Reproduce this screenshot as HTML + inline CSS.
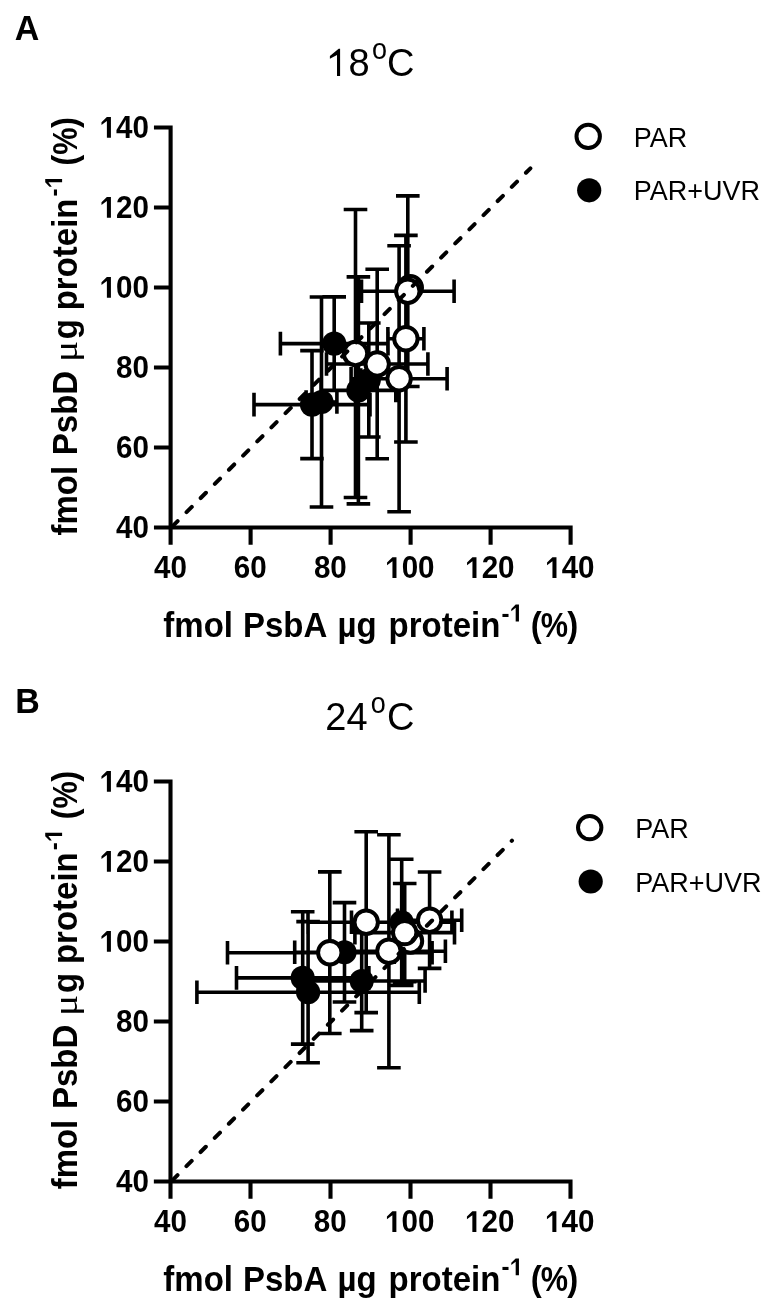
<!DOCTYPE html>
<html><head><meta charset="utf-8"><style>
html,body{margin:0;padding:0;background:#fff;}
svg{display:block;will-change:transform;}
text{font-family:"Liberation Sans",sans-serif;fill:#000;}
.mu{font-family:"Liberation Serif",serif;font-weight:normal;}
</style></head><body>
<svg width="768" height="1307" viewBox="0 0 768 1307">
<rect width="768" height="1307" fill="#fff"/>
<g transform="translate(14.75 39.7) scale(1 1.04)"><text x="0" y="0" font-size="34" font-weight="bold">A</text></g><g transform="translate(327.41 75.9) scale(1 1.04)"><path d="M2.49 -19.21L11.26 -26.1L12.69 -26.1L12.69 0L9.59 0L9.59 -20.16L2.49 -16.41Z"/><text x="21.13" y="0" font-size="38">8</text></g><g transform="translate(371.97 58.9) scale(1 1.06)"><text x="0" y="0" font-size="27">o</text></g><g transform="translate(386.97 76.1) scale(1 1.04)"><text x="0" y="0" font-size="38">C</text></g><g transform="translate(163.34 637) scale(1 1.04)"><text x="0" y="0" font-size="33" font-weight="bold">fmol</text></g><g transform="translate(242.99 637) scale(1 1.04)"><text x="0" y="0" font-size="33" font-weight="bold">PsbA</text></g><g transform="translate(337.44 637) scale(1 1.04)"><text x="0" y="0" font-size="33" font-weight="bold">µg</text></g><g transform="translate(388.62 637) scale(1 1.04)"><text x="0" y="0" font-size="33" font-weight="bold">protein</text></g><g transform="translate(501.46 621.5) scale(1 1.04)"><text x="0" y="0" font-size="24" font-weight="bold">-</text></g><g transform="translate(509.8 621.5) scale(1 1.04)"><path d="M1.5 -12.12L5.87 -16.23L9.15 -16.23L9.15 0L5.88 0L5.88 -13.13L1.5 -9.92Z"/></g><g transform="translate(530.66 637) scale(1 1.04)"><text x="0" y="0" font-size="33" font-weight="bold">(</text></g><g transform="translate(540.64 637) scale(0.93 1.04)"><text x="0" y="0" font-size="33" font-weight="bold">%</text></g><g transform="translate(567.25 637) scale(1 1.04)"><text x="0" y="0" font-size="33" font-weight="bold">)</text></g><g transform="translate(77.1 0) rotate(-90)"><g transform="translate(-535.56 0) scale(1 1.04)"><text x="0" y="0" font-size="33" font-weight="bold">fmol</text></g><g transform="translate(-455.21 0) scale(1 1.04)"><text x="0" y="0" font-size="33" font-weight="bold">PsbD</text></g><g transform="translate(-362.11 0) scale(1.2 1)"><text x="0" y="0" font-size="33" class="mu">μ</text></g><g transform="translate(-339.15 0) scale(1 1.04)"><text x="0" y="0" font-size="33" font-weight="bold">g</text></g><g transform="translate(-310.28 0) scale(1 1.04)"><text x="0" y="0" font-size="33" font-weight="bold">protein</text></g><g transform="translate(-196.44 -15) scale(1 1.04)"><text x="0" y="0" font-size="24" font-weight="bold">-</text></g><g transform="translate(-188.2 -15) scale(1 1.04)"><path d="M1.5 -12.12L5.87 -16.23L9.15 -16.23L9.15 0L5.88 0L5.88 -13.13L1.5 -9.92Z"/></g><g transform="translate(-165.64 0) scale(1 1.04)"><text x="0" y="0" font-size="33" font-weight="bold">(</text></g><g transform="translate(-154.76 0) scale(0.93 1.04)"><text x="0" y="0" font-size="33" font-weight="bold">%</text></g><g transform="translate(-127.95 0) scale(1 1.04)"><text x="0" y="0" font-size="33" font-weight="bold">)</text></g></g><circle cx="588.2" cy="136.4" r="11.7" fill="#fff" stroke="#000" stroke-width="4.0"/><circle cx="589.2" cy="190.3" r="12.1"/><g transform="translate(633.69 146.6) scale(1 1.05)"><text x="0" y="0" font-size="27">PAR</text></g><g transform="translate(633.69 200.4) scale(1 1.05)"><text x="0" y="0" font-size="27">PAR+UVR</text></g><path d="M170.6 127.5V527.5M156 527.5H170.6M156 447.5H170.6M156 367.5H170.6M156 287.5H170.6M156 207.5H170.6M156 127.5H170.6M170.6 527.5H570.6M170.6 527.5V542.8M250.6 527.5V542.8M330.6 527.5V542.8M410.6 527.5V542.8M490.6 527.5V542.8M570.6 527.5V542.8" fill="none" stroke="#000" stroke-width="4.1" stroke-linecap="square"/><path d="M334.2 296.9V390.3M322.4 296.9H346M322.4 390.3H346M280.4 343.6H388M280.4 331.8V355.4M388 331.8V355.4M312 350.6V458.6M300.2 350.6H323.8M300.2 458.6H323.8M254 404.6H370M254 392.8V416.4M370 392.8V416.4M321.5 297V507M309.7 297H333.3M309.7 507H333.3M306.1 402H336.9M306.1 390.2V413.8M336.9 390.2V413.8M358.4 276.9V503.9M346.6 276.9H370.2M346.6 503.9H370.2M321 390.4H395.8M321 378.6V402.2M395.8 378.6V402.2M368.8 323V437M357 323H380.6M357 437H380.6M360.8 380H376.8M360.8 368.2V391.8M376.8 368.2V391.8M407.8 195.9V386.5M396 195.9H419.6M396 386.5H419.6M361.5 291.2H454.1M361.5 279.4V303M454.1 279.4V303M405.9 235.4V442M394.1 235.4H417.7M394.1 442H417.7M387.9 338.7H423.9M387.9 326.9V350.5M423.9 326.9V350.5M355.5 209.5V497.5M343.7 209.5H367.3M343.7 497.5H367.3M347.5 353.5H363.5M347.5 341.7V365.3M363.5 341.7V365.3M377.2 269.3V458.7M365.4 269.3H389M365.4 458.7H389M326.5 364H427.9M326.5 352.2V375.8M427.9 352.2V375.8M399.1 245.7V511.7M387.3 245.7H410.9M387.3 511.7H410.9M351.1 378.7H447.1M351.1 366.9V390.5M447.1 366.9V390.5" fill="none" stroke="#000" stroke-width="3.6"/><circle cx="334.2" cy="343.6" r="12.1"/><circle cx="312" cy="404.6" r="12.1"/><circle cx="321.5" cy="402" r="12.1"/><circle cx="358.4" cy="390.4" r="12.1"/><circle cx="368.8" cy="380" r="12.1"/><circle cx="410.3" cy="287.8" r="11.7" fill="#fff" stroke="#000" stroke-width="4.0"/><circle cx="407.8" cy="291.2" r="11.7" fill="#fff" stroke="#000" stroke-width="4.0"/><circle cx="405.9" cy="338.7" r="11.7" fill="#fff" stroke="#000" stroke-width="4.0"/><circle cx="355.5" cy="353.5" r="11.7" fill="#fff" stroke="#000" stroke-width="4.0"/><circle cx="377.2" cy="364" r="11.7" fill="#fff" stroke="#000" stroke-width="4.0"/><circle cx="399.1" cy="378.7" r="11.7" fill="#fff" stroke="#000" stroke-width="4.0"/><path d="M170.6 528.1L530.4 168.3" stroke="#000" stroke-width="4" stroke-linecap="round" stroke-dasharray="7.4 12.6" stroke-dashoffset="17.45" fill="none"/><g transform="translate(116.09 537.7) scale(1 1.03)"><text x="0" y="0" font-size="29.6" font-weight="bold">40</text></g><g transform="translate(116.09 457.7) scale(1 1.03)"><text x="0" y="0" font-size="29.6" font-weight="bold">60</text></g><g transform="translate(116.09 377.7) scale(1 1.03)"><text x="0" y="0" font-size="29.6" font-weight="bold">80</text></g><g transform="translate(99.63 297.7) scale(1 1.03)"><path d="M1.85 -15.03L7.24 -20.11L11.29 -20.11L11.29 0L7.26 0L7.26 -16.27L1.85 -12.29Z"/><text x="16.46" y="0" font-size="29.6" font-weight="bold">00</text></g><g transform="translate(99.63 217.7) scale(1 1.03)"><path d="M1.85 -15.03L7.24 -20.11L11.29 -20.11L11.29 0L7.26 0L7.26 -16.27L1.85 -12.29Z"/><text x="16.46" y="0" font-size="29.6" font-weight="bold">20</text></g><g transform="translate(99.63 137.7) scale(1 1.03)"><path d="M1.85 -15.03L7.24 -20.11L11.29 -20.11L11.29 0L7.26 0L7.26 -16.27L1.85 -12.29Z"/><text x="16.46" y="0" font-size="29.6" font-weight="bold">40</text></g><g transform="translate(154.12 578) scale(1 1.03)"><text x="0" y="0" font-size="29.6" font-weight="bold">40</text></g><g transform="translate(233.8 578) scale(1 1.03)"><text x="0" y="0" font-size="29.6" font-weight="bold">60</text></g><g transform="translate(313.88 578) scale(1 1.03)"><text x="0" y="0" font-size="29.6" font-weight="bold">80</text></g><g transform="translate(385.19 578) scale(1 1.03)"><path d="M1.85 -15.03L7.24 -20.11L11.29 -20.11L11.29 0L7.26 0L7.26 -16.27L1.85 -12.29Z"/><text x="16.46" y="0" font-size="29.6" font-weight="bold">00</text></g><g transform="translate(465.19 578) scale(1 1.03)"><path d="M1.85 -15.03L7.24 -20.11L11.29 -20.11L11.29 0L7.26 0L7.26 -16.27L1.85 -12.29Z"/><text x="16.46" y="0" font-size="29.6" font-weight="bold">20</text></g><g transform="translate(545.19 578) scale(1 1.03)"><path d="M1.85 -15.03L7.24 -20.11L11.29 -20.11L11.29 0L7.26 0L7.26 -16.27L1.85 -12.29Z"/><text x="16.46" y="0" font-size="29.6" font-weight="bold">40</text></g><g transform="translate(15.33 713.2) scale(1 1.04)"><text x="0" y="0" font-size="34" font-weight="bold">B</text></g><g transform="translate(325.29 729.7) scale(1 1.04)"><text x="0" y="0" font-size="38">24</text></g><g transform="translate(370.87 712.7) scale(1 1.06)"><text x="0" y="0" font-size="27">o</text></g><g transform="translate(386.97 729.9) scale(1 1.04)"><text x="0" y="0" font-size="38">C</text></g><g transform="translate(163.34 1290.8) scale(1 1.04)"><text x="0" y="0" font-size="33" font-weight="bold">fmol</text></g><g transform="translate(242.99 1290.8) scale(1 1.04)"><text x="0" y="0" font-size="33" font-weight="bold">PsbA</text></g><g transform="translate(337.44 1290.8) scale(1 1.04)"><text x="0" y="0" font-size="33" font-weight="bold">µg</text></g><g transform="translate(388.62 1290.8) scale(1 1.04)"><text x="0" y="0" font-size="33" font-weight="bold">protein</text></g><g transform="translate(501.46 1275.3) scale(1 1.04)"><text x="0" y="0" font-size="24" font-weight="bold">-</text></g><g transform="translate(509.8 1275.3) scale(1 1.04)"><path d="M1.5 -12.12L5.87 -16.23L9.15 -16.23L9.15 0L5.88 0L5.88 -13.13L1.5 -9.92Z"/></g><g transform="translate(530.66 1290.8) scale(1 1.04)"><text x="0" y="0" font-size="33" font-weight="bold">(</text></g><g transform="translate(540.64 1290.8) scale(0.93 1.04)"><text x="0" y="0" font-size="33" font-weight="bold">%</text></g><g transform="translate(567.25 1290.8) scale(1 1.04)"><text x="0" y="0" font-size="33" font-weight="bold">)</text></g><g transform="translate(77.1 653.8) rotate(-90)"><g transform="translate(-535.56 0) scale(1 1.04)"><text x="0" y="0" font-size="33" font-weight="bold">fmol</text></g><g transform="translate(-455.21 0) scale(1 1.04)"><text x="0" y="0" font-size="33" font-weight="bold">PsbD</text></g><g transform="translate(-362.11 0) scale(1.2 1)"><text x="0" y="0" font-size="33" class="mu">μ</text></g><g transform="translate(-339.15 0) scale(1 1.04)"><text x="0" y="0" font-size="33" font-weight="bold">g</text></g><g transform="translate(-310.28 0) scale(1 1.04)"><text x="0" y="0" font-size="33" font-weight="bold">protein</text></g><g transform="translate(-196.44 -15) scale(1 1.04)"><text x="0" y="0" font-size="24" font-weight="bold">-</text></g><g transform="translate(-188.2 -15) scale(1 1.04)"><path d="M1.5 -12.12L5.87 -16.23L9.15 -16.23L9.15 0L5.88 0L5.88 -13.13L1.5 -9.92Z"/></g><g transform="translate(-165.64 0) scale(1 1.04)"><text x="0" y="0" font-size="33" font-weight="bold">(</text></g><g transform="translate(-154.76 0) scale(0.93 1.04)"><text x="0" y="0" font-size="33" font-weight="bold">%</text></g><g transform="translate(-127.95 0) scale(1 1.04)"><text x="0" y="0" font-size="33" font-weight="bold">)</text></g></g><circle cx="589.7" cy="827.6" r="11.7" fill="#fff" stroke="#000" stroke-width="4.0"/><circle cx="590.7" cy="881.5" r="12.1"/><g transform="translate(635.19 837.8) scale(1 1.05)"><text x="0" y="0" font-size="27">PAR</text></g><g transform="translate(635.19 891.6) scale(1 1.05)"><text x="0" y="0" font-size="27">PAR+UVR</text></g><path d="M170.5 781.5V1181.5M155.9 1181.5H170.5M155.9 1101.5H170.5M155.9 1021.5H170.5M155.9 941.5H170.5M155.9 861.5H170.5M155.9 781.5H170.5M170.5 1181.5H570.5M170.5 1181.5V1196.8M250.5 1181.5V1196.8M330.5 1181.5V1196.8M410.5 1181.5V1196.8M490.5 1181.5V1196.8M570.5 1181.5V1196.8" fill="none" stroke="#000" stroke-width="4.1" stroke-linecap="square"/><path d="M302.7 911.7V1044.1M290.9 911.7H314.5M290.9 1044.1H314.5M236.5 977.9H368.9M236.5 966.1V989.7M368.9 966.1V989.7M308.1 921.6V1062.8M296.3 921.6H319.9M296.3 1062.8H319.9M196.9 992.2H419.3M196.9 980.4V1004M419.3 980.4V1004M344.5 902.6V1002M332.7 902.6H356.3M332.7 1002H356.3M294.7 952.3H394.3M294.7 940.5V964.1M394.3 940.5V964.1M361.7 931.4V1030.6M349.9 931.4H373.5M349.9 1030.6H373.5M298.3 981H425.1M298.3 969.2V992.8M425.1 969.2V992.8M401.7 859.2V985.4M389.9 859.2H413.5M389.9 985.4H413.5M351.5 922.3H451.9M351.5 910.5V934.1M451.9 910.5V934.1M366.2 831.8V1012.6M354.4 831.8H378M354.4 1012.6H378M308 922.2H424.4M308 910.4V934M424.4 910.4V934M329.8 871.9V1033.5M318 871.9H341.6M318 1033.5H341.6M227.5 952.7H432.1M227.5 940.9V964.5M432.1 940.9V964.5M388.9 834.7V1067.7M377.1 834.7H400.7M377.1 1067.7H400.7M332.4 951.2H445.4M332.4 939.4V963M445.4 939.4V963M404.7 883.5V981.7M392.9 883.5H416.5M392.9 981.7H416.5M354.9 932.6H454.5M354.9 920.8V944.4M454.5 920.8V944.4M429.6 872V968.4M417.8 872H441.4M417.8 968.4H441.4M397.5 920.2H461.7M397.5 908.4V932M461.7 908.4V932" fill="none" stroke="#000" stroke-width="3.6"/><circle cx="302.7" cy="977.9" r="12.1"/><circle cx="308.1" cy="992.2" r="12.1"/><circle cx="344.5" cy="952.3" r="12.1"/><circle cx="361.7" cy="981" r="12.1"/><circle cx="401.7" cy="922.3" r="12.1"/><circle cx="410.5" cy="941" r="11.7" fill="#fff" stroke="#000" stroke-width="4.0"/><circle cx="366.2" cy="922.2" r="11.7" fill="#fff" stroke="#000" stroke-width="4.0"/><circle cx="329.8" cy="952.7" r="11.7" fill="#fff" stroke="#000" stroke-width="4.0"/><circle cx="388.9" cy="951.2" r="11.7" fill="#fff" stroke="#000" stroke-width="4.0"/><circle cx="404.7" cy="932.6" r="11.7" fill="#fff" stroke="#000" stroke-width="4.0"/><circle cx="429.6" cy="920.2" r="11.7" fill="#fff" stroke="#000" stroke-width="4.0"/><path d="M170.5 1182.1L512 840.6" stroke="#000" stroke-width="4" stroke-linecap="round" stroke-dasharray="7.4 12.6" stroke-dashoffset="17.45" fill="none"/><g transform="translate(116.09 1191.7) scale(1 1.03)"><text x="0" y="0" font-size="29.6" font-weight="bold">40</text></g><g transform="translate(116.09 1111.7) scale(1 1.03)"><text x="0" y="0" font-size="29.6" font-weight="bold">60</text></g><g transform="translate(116.09 1031.7) scale(1 1.03)"><text x="0" y="0" font-size="29.6" font-weight="bold">80</text></g><g transform="translate(99.63 951.7) scale(1 1.03)"><path d="M1.85 -15.03L7.24 -20.11L11.29 -20.11L11.29 0L7.26 0L7.26 -16.27L1.85 -12.29Z"/><text x="16.46" y="0" font-size="29.6" font-weight="bold">00</text></g><g transform="translate(99.63 871.7) scale(1 1.03)"><path d="M1.85 -15.03L7.24 -20.11L11.29 -20.11L11.29 0L7.26 0L7.26 -16.27L1.85 -12.29Z"/><text x="16.46" y="0" font-size="29.6" font-weight="bold">20</text></g><g transform="translate(99.63 791.7) scale(1 1.03)"><path d="M1.85 -15.03L7.24 -20.11L11.29 -20.11L11.29 0L7.26 0L7.26 -16.27L1.85 -12.29Z"/><text x="16.46" y="0" font-size="29.6" font-weight="bold">40</text></g><g transform="translate(154.02 1232) scale(1 1.03)"><text x="0" y="0" font-size="29.6" font-weight="bold">40</text></g><g transform="translate(233.7 1232) scale(1 1.03)"><text x="0" y="0" font-size="29.6" font-weight="bold">60</text></g><g transform="translate(313.78 1232) scale(1 1.03)"><text x="0" y="0" font-size="29.6" font-weight="bold">80</text></g><g transform="translate(385.09 1232) scale(1 1.03)"><path d="M1.85 -15.03L7.24 -20.11L11.29 -20.11L11.29 0L7.26 0L7.26 -16.27L1.85 -12.29Z"/><text x="16.46" y="0" font-size="29.6" font-weight="bold">00</text></g><g transform="translate(465.09 1232) scale(1 1.03)"><path d="M1.85 -15.03L7.24 -20.11L11.29 -20.11L11.29 0L7.26 0L7.26 -16.27L1.85 -12.29Z"/><text x="16.46" y="0" font-size="29.6" font-weight="bold">20</text></g><g transform="translate(545.09 1232) scale(1 1.03)"><path d="M1.85 -15.03L7.24 -20.11L11.29 -20.11L11.29 0L7.26 0L7.26 -16.27L1.85 -12.29Z"/><text x="16.46" y="0" font-size="29.6" font-weight="bold">40</text></g>
</svg>
</body></html>
